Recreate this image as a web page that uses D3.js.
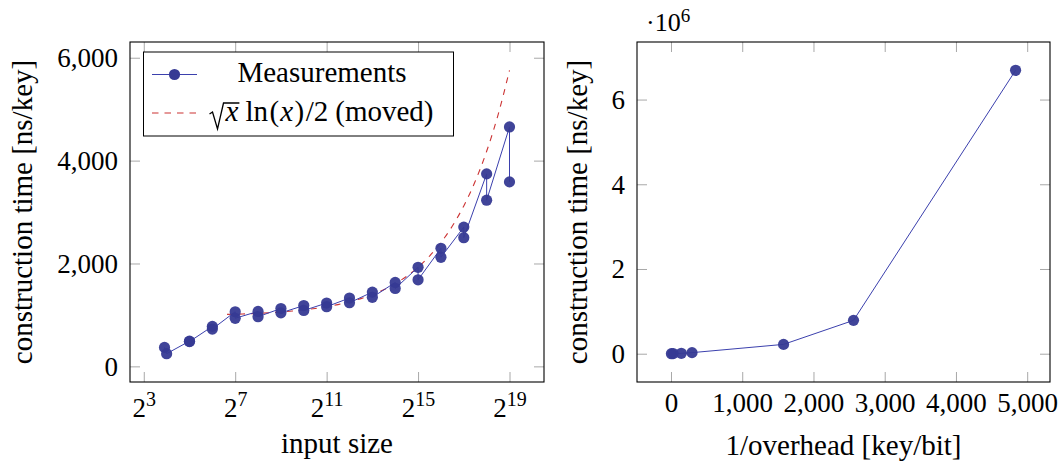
<!DOCTYPE html>
<html>
<head>
<meta charset="utf-8">
<script src="https://cdn.jsdelivr.net/npm/d3@7"></script>
<style>
  html, body { margin: 0; padding: 0; background: #fff; }
  svg { display: block; font-family: "Liberation Serif", "Times New Roman", serif; }
</style>
</head>
<body>
<svg id="chart" width="1061" height="465"></svg>
<script>
// Construction time per key against input size (two runs per size)
const inputSizes = [15, 16, 32, 32, 64, 64, 128, 128, 256, 256, 512, 512, 1024, 1024,
  2048, 2048, 4096, 4096, 8192, 8192, 16384, 16384, 32768, 32768, 65536, 65536,
  131072, 131072, 262144, 262144, 524288, 524288];
const timePerKey = [369, 247, 490, 482, 777, 726, 1062, 935, 1068, 965, 1125, 1040, 1182, 1087,
  1231, 1160, 1328, 1237, 1444, 1343, 1631, 1515, 1926, 1683, 2295, 2120,
  2707, 2502, 3742, 3230, 4655, 3586];

// Reference curve sqrt(x) ln(x)/2, shifted upwards
const curveSizes = [100, 128, 181, 256, 362, 512, 724, 1024, 1448, 2048, 2896, 4096, 5793,
  8192, 11585, 16384, 23170, 32768, 46341, 65536, 92682, 131072, 185364, 262144,
  370728, 524288];
const curveTimes = [1010, 1014, 1022, 1031, 1043, 1058, 1076, 1098, 1125, 1160, 1201, 1253, 1317,
  1395, 1490, 1608, 1752, 1928, 2143, 2407, 2728, 3120, 3598, 4181,
  4891, 5755];

// Construction time against inverse space overhead
const invOverhead = [6, 30, 145, 295, 1580, 2562, 4837];
const overheadTimes = [1000, 3000, 9000, 25000, 220000, 787000, 6690000];

// Tick values
const sizeTickExps = [3, 7, 11, 15, 19];
const timeTicks = [0, 2000, 4000, 6000];
const overheadTicks = [0, 1000, 2000, 3000, 4000, 5000];
const overheadTimeTicks = [0, 2e6, 4e6, 6e6];

const svg = d3.select("#chart");
const TICK_FONT = 27, LABEL_FONT = 29;
const markColor = "#363a94", lineColor = "#3b40ad", curveColor = "#cc3333";
const tickColor = "#a8a8a8";

// pgfplots-style 10% enlargement of the data range
function enlarge([a, b]) { const d = (b - a) * 0.1; return [a - d, b + d]; }

function styleTicks(g) {
  g.select(".domain").remove();
  g.selectAll(".tick line").attr("stroke", tickColor).attr("stroke-width", 1);
  g.selectAll(".tick text").attr("fill", "#000").attr("font-size", TICK_FONT)
    .attr("font-family", "Liberation Serif");
}

function frame(box) {
  svg.append("rect")
    .attr("x", box.x0).attr("y", box.y0)
    .attr("width", box.x1 - box.x0).attr("height", box.y1 - box.y0)
    .attr("fill", "none").attr("stroke", "#000").attr("stroke-width", 1.1);
}

function drawAxes(box, x, y, xTicks, yTicks, xFmt, yFmt) {
  const T = 10;
  const gxb = svg.append("g").attr("transform", `translate(0,${box.y1})`)
    .call(d3.axisBottom(x).tickValues(xTicks).tickSize(-T).tickPadding(0).tickFormat(xFmt));
  styleTicks(gxb);
  svg.append("g").attr("transform", `translate(0,${box.y0})`)
    .call(d3.axisTop(x).tickValues(xTicks).tickSize(-T).tickFormat(""))
    .call(styleTicks);
  const gyl = svg.append("g").attr("transform", `translate(${box.x0},0)`)
    .call(d3.axisLeft(y).tickValues(yTicks).tickSize(-T).tickPadding(12).tickFormat(yFmt));
  styleTicks(gyl);
  gyl.selectAll(".tick text").attr("dy", "0.33em");
  svg.append("g").attr("transform", `translate(${box.x1},0)`)
    .call(d3.axisRight(y).tickValues(yTicks).tickSize(-T).tickFormat(""))
    .call(styleTicks);
  return gxb;
}

// ---------- left panel ----------
const L = { x0: 130, x1: 544, y0: 42, y1: 382 };
const allLeft = timePerKey.concat(curveTimes);
const expExtent = enlarge(d3.extent(inputSizes.concat(curveSizes), d => Math.log2(d)));
const xL = d3.scaleLog().base(2)
  .domain([Math.pow(2, expExtent[0]), Math.pow(2, expExtent[1])])
  .range([L.x0, L.x1]);
const yL = d3.scaleLinear().domain(enlarge(d3.extent(allLeft))).range([L.y1, L.y0]);

const gxL = drawAxes(L, xL, yL, sizeTickExps.map(e => Math.pow(2, e)), timeTicks,
  d => "", d3.format(","));
gxL.selectAll(".tick text").attr("dy", null).attr("y", 35)
  .each(function (d) {
    const t = d3.select(this);
    t.text(null);
    t.append("tspan").text("2");
    t.append("tspan").attr("dy", -11).attr("font-size", 20).text(Math.round(Math.log2(d)));
  });

// dashed reference curve
svg.append("path")
  .datum(curveSizes.map((s, i) => [s, curveTimes[i]]))
  .attr("fill", "none").attr("stroke", curveColor).attr("stroke-width", 1.1)
  .attr("stroke-dasharray", "6,6")
  .attr("d", d3.line().x(d => xL(d[0])).y(d => yL(d[1])).curve(d3.curveMonotoneX));

// measurement line and markers
const measL = inputSizes.map((s, i) => [s, timePerKey[i]]);
svg.append("path").datum(measL)
  .attr("fill", "none").attr("stroke", lineColor).attr("stroke-width", 1)
  .attr("d", d3.line().x(d => xL(d[0])).y(d => yL(d[1])));
svg.append("g").selectAll("circle").data(measL).join("circle")
  .attr("cx", d => xL(d[0])).attr("cy", d => yL(d[1])).attr("r", 5.6)
  .attr("fill", markColor).attr("fill-opacity", 0.95);

frame(L);

svg.append("text").attr("transform", `translate(32,${(L.y0 + L.y1) / 2}) rotate(-90)`)
  .attr("text-anchor", "middle").attr("font-size", LABEL_FONT)
  .text("construction time [ns/key]");
svg.append("text").attr("x", (L.x0 + L.x1) / 2).attr("y", 453)
  .attr("text-anchor", "middle").attr("font-size", LABEL_FONT)
  .text("input size");

// legend
const lg = svg.append("g");
lg.append("rect").attr("x", 143.5).attr("y", 52).attr("width", 310).attr("height", 84)
  .attr("fill", "#fff").attr("stroke", "#000").attr("stroke-width", 1);
lg.append("line").attr("x1", 152).attr("x2", 197).attr("y1", 74.5).attr("y2", 74.5)
  .attr("stroke", lineColor).attr("stroke-width", 1);
lg.append("circle").attr("cx", 174.5).attr("cy", 74.5).attr("r", 5.6).attr("fill", markColor);
lg.append("text").attr("x", 322).attr("y", 81.5).attr("text-anchor", "middle")
  .attr("font-size", LABEL_FONT).text("Measurements");
lg.append("line").attr("x1", 152).attr("x2", 197).attr("y1", 113).attr("y2", 113)
  .attr("stroke", curveColor).attr("stroke-width", 1.1).attr("stroke-dasharray", "6.5,6");

// formula label: sqrt(x) ln(x)/2 (moved), spaced like typeset math
const gaps = [17, 7, 1.5, 1, 1.5, 1.5, 7];
const ft = lg.append("text").attr("y", 121).attr("font-size", LABEL_FONT);
ft.append("tspan").attr("dx", gaps[0]).attr("font-style", "italic").text("x");
ft.append("tspan").attr("dx", gaps[1]).text("ln");
ft.append("tspan").attr("dx", gaps[2]).text("(");
ft.append("tspan").attr("dx", gaps[3]).attr("font-style", "italic").text("x");
ft.append("tspan").attr("dx", gaps[4]).text(")");
ft.append("tspan").attr("dx", gaps[5]).text("/2");
ft.append("tspan").attr("dx", gaps[6]).text("(moved)");
ft.attr("x", 0);
const bb = ft.node().getBBox();
const ftw = bb.x + bb.width;
const fx0 = 321 - ftw / 2;
ft.attr("x", fx0);
// radical sign over the first x
const xEnd = ft.node().getEndPositionOfChar(0).x;
const rb = 121, rTop = 103;
lg.append("path")
  .attr("d", `M${fx0 + 1},${rb - 7} L${fx0 + 4},${rb - 9} L${fx0 + 9},${rb + 8} L${fx0 + 15},${rTop} L${xEnd + 1},${rTop}`)
  .attr("fill", "none").attr("stroke", "#000").attr("stroke-width", 1.3)
  .attr("stroke-linejoin", "miter");

// ---------- right panel ----------
const R = { x0: 637, x1: 1050, y0: 42, y1: 382 };
const xR = d3.scaleLinear().domain(enlarge(d3.extent(invOverhead))).range([R.x0, R.x1]);
const yR = d3.scaleLinear().domain(enlarge(d3.extent(overheadTimes))).range([R.y1, R.y0]);

const gxR = drawAxes(R, xR, yR, overheadTicks, overheadTimeTicks,
  d3.format(","), d => String(d / 1e6));
gxR.selectAll(".tick text").attr("dy", null).attr("y", 29.5);

const measR = invOverhead.map((v, i) => [v, overheadTimes[i]]);
svg.append("path").datum(measR)
  .attr("fill", "none").attr("stroke", lineColor).attr("stroke-width", 1)
  .attr("d", d3.line().x(d => xR(d[0])).y(d => yR(d[1])));
svg.append("g").selectAll("circle").data(measR).join("circle")
  .attr("cx", d => xR(d[0])).attr("cy", d => yR(d[1])).attr("r", 5.6)
  .attr("fill", markColor).attr("fill-opacity", 0.95);

frame(R);

// scale factor for the y axis
const sf = svg.append("text").attr("x", 646).attr("y", 30.5).attr("font-size", 26);
sf.append("tspan").text("·10");
sf.append("tspan").attr("dy", -9).attr("font-size", 19).text("6");

svg.append("text").attr("transform", `translate(587,${(R.y0 + R.y1) / 2}) rotate(-90)`)
  .attr("text-anchor", "middle").attr("font-size", LABEL_FONT)
  .text("construction time [ns/key]");
svg.append("text").attr("x", (R.x0 + R.x1) / 2).attr("y", 455)
  .attr("text-anchor", "middle").attr("font-size", LABEL_FONT)
  .text("1/overhead [key/bit]");
</script>
</body>
</html>
